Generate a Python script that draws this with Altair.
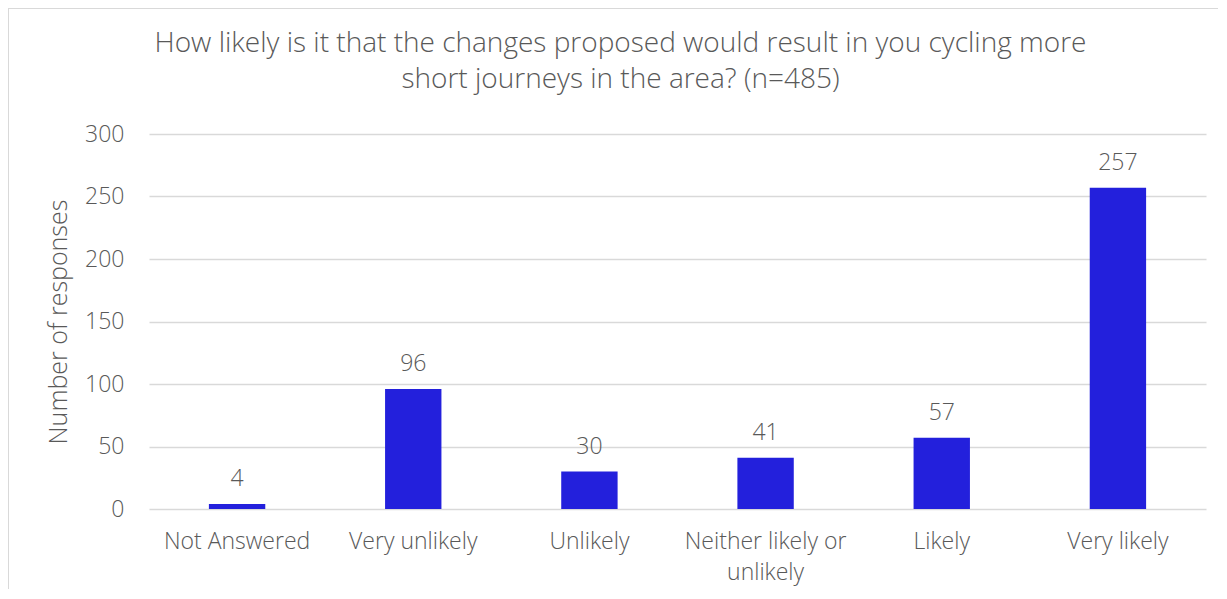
import altair as alt
import pandas as pd

categories = ["Not Answered", "Very unlikely", "Unlikely", "Neither likely or unlikely", "Likely", "Very likely"]
responses = [4, 96, 30, 41, 57, 257]

df = pd.DataFrame({"category": categories, "responses": responses})

FONT = "Open Sans"
GREY = "#595959"
BLUE = "#2320DC"

x_enc = alt.X(
    "category:N",
    sort=categories,
    title=None,
    scale=alt.Scale(paddingInner=0.68, paddingOuter=0.34),
    axis=alt.Axis(
        labelAngle=0,
        labelFontSize=23,
        labelColor=GREY,
        labelFont=FONT,
        labelFontWeight=300,
        labelPadding=21,
        labelLineHeight=31,
        ticks=False,
        domain=False,
        grid=False,
        labelExpr="datum.value == 'Neither likely or unlikely' ? ['Neither likely or', 'unlikely'] : datum.label",
    ),
)
y_enc = alt.Y(
    "responses:Q",
    scale=alt.Scale(domain=[0, 300]),
    title="Number of responses",
    axis=alt.Axis(
        values=[0, 50, 100, 150, 200, 250, 300],
        labelFontSize=23,
        labelColor=GREY,
        labelFont=FONT,
        labelFontWeight=300,
        labelPadding=25,
        ticks=False,
        domain=False,
        gridColor="#D9D9D9",
        gridWidth=1.5,
        titleFontSize=25,
        titleFont=FONT,
        titleFontWeight=300,
        titleColor=GREY,
        titlePadding=13,
    ),
)

base = alt.Chart(df)

bars = base.mark_bar(color=BLUE).encode(x=x_enc, y=y_enc)
labels = base.mark_text(
    fontSize=23, font=FONT, fontWeight=300, color=GREY, baseline="alphabetic", dy=-18
).encode(x=alt.X("category:N", sort=categories), y=alt.Y("responses:Q"), text="responses:Q")

border = base.mark_rect(fill=None, stroke="#D9D9D9", strokeWidth=2).encode(
    x=alt.value(-141), x2=alt.value(1200), y=alt.value(-126), y2=alt.value(700)
).transform_filter("datum.category == 'Likely'")

chart = (
    alt.layer(border, bars, labels)
    .properties(
        width=1057,
        height=375,
        autosize=alt.AutoSizeParams(type="none"),
        padding={"left": 141, "top": 126, "right": 12, "bottom": 80},
        view=alt.ViewBackground(stroke="transparent", strokeWidth=0),
        title=alt.TitleParams(
            text=["How likely is it that the changes proposed would result in you cycling more",
                  "short journeys in the area? (n=485)"],
            fontSize=28,
            font=FONT,
            fontWeight=300,
            color=GREY,
            lineHeight=36,
            anchor="middle",
            dx=-57,
            offset=0,
            dy=87,
        ),
    )
    .configure_view(stroke="transparent", strokeWidth=0)
    .configure(background="white")
)

chart.save("out.html", embed_options={"renderer": "svg", "actions": False})
